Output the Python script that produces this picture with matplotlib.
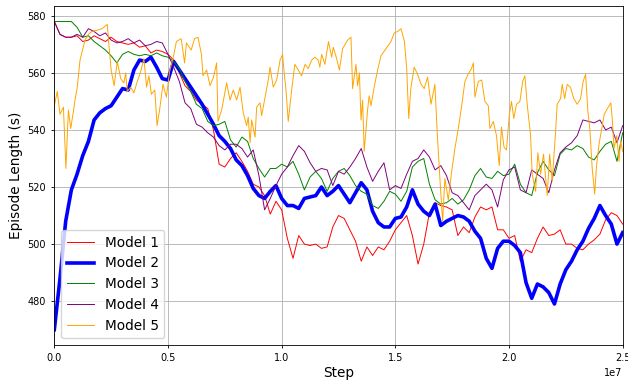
import numpy as np
import matplotlib
matplotlib.use("Agg")
import matplotlib.pyplot as plt

# common step grid (in millions of steps) for models 1-4
steps = np.arange(0, 25.01, 0.25)

model1 = [578, 573.5, 572.5, 572.5, 573, 571, 571.5, 573, 572, 571,
          572.5, 571, 570.5, 570, 570.5, 569, 569.5, 567, 568, 567.5,
          566.5, 564.5, 560, 555.5, 553.5, 550.5, 549, 547.5, 540, 528,
          527, 530, 532, 529, 525.5, 521, 520, 517, 510.5, 515,
          512, 502, 495, 503, 500, 499.5, 500, 498.5, 499, 506,
          510, 509, 505, 501, 494, 499, 496, 499, 498, 501,
          505, 507.5, 510, 503, 493, 500, 511, 514.5, 513.5, 513,
          512, 503, 506, 504, 509.5, 513, 512, 513, 505, 505,
          502, 503, 494, 498, 497, 502, 506, 503, 503.5, 505,
          500, 500, 498.5, 498, 500, 501.5, 503.5, 508.5, 511, 510,
          507]

model2 = [470, 488, 508, 519, 524.5, 531, 536, 543.5, 546, 547.5,
          548.5, 551.5, 554.5, 554, 561, 564.5, 564, 565.5, 562, 558,
          557.5, 564, 561, 558, 555, 552, 549, 545.5, 542, 538,
          536, 533.5, 529.5, 527.5, 524, 519.5, 517, 516, 518.5, 520.5,
          516, 513.5, 513.5, 512.5, 516, 516.5, 517, 520, 517, 518.5,
          520.5, 517.5, 514.5, 518, 521.5, 519, 511.5, 507.5, 506, 506,
          509, 509.5, 513, 519, 514, 511.5, 510, 514, 506.5, 508,
          509, 510, 509.5, 508, 504.5, 502, 495, 491.5, 498.5, 501,
          501, 499.5, 497, 486.5, 481, 486, 485, 483, 479, 486,
          491, 494, 498, 501, 505.5, 509, 513.5, 510, 507, 500,
          504]

model3 = [578, 578, 578, 578, 576, 572.5, 573, 571, 569.5, 568,
          566, 563.5, 566.5, 567.5, 566.5, 566, 566.5, 566, 567, 566,
          565.5, 564, 561.5, 557, 553.5, 549, 547.5, 543, 541.5, 542,
          543, 536.5, 534, 537.5, 536, 530, 526.5, 523.5, 526.5, 526.5,
          528, 527, 529, 524.5, 519, 523.5, 525.5, 523, 518.5, 523,
          525.5, 526.5, 524, 520.5, 518.5, 517.5, 513.5, 512.5, 515, 518.5,
          517.5, 515, 518.5, 527, 529, 530, 521, 515.5, 514, 514.5,
          516, 514, 515.5, 519, 524, 526.5, 523.5, 523, 525.5, 524,
          524.5, 528, 521, 518, 517, 525, 529, 526, 524, 531.5,
          533.5, 533, 534.5, 533.5, 530.5, 529.5, 532.5, 535, 536, 529,
          539]

model4 = [578, 573.5, 572.5, 572.5, 573.5, 572.5, 575.5, 574.5, 573, 574,
          571.5, 570.5, 571, 572, 570.5, 571.5, 569.5, 570, 571, 570.5,
          566.5, 562, 557, 549.5, 547.5, 542, 541, 539, 537.5, 534.5,
          533, 535, 535, 533.5, 530.5, 533, 524, 512, 516, 520.5,
          524.5, 527, 531, 534.5, 532.5, 528.5, 525.5, 526.5, 526, 520.5,
          525.5, 524.5, 527, 530, 533.5, 527, 522, 525.5, 528.5, 519,
          520.5, 519.5, 524.5, 529, 530, 533, 530.5, 526, 527.5, 524,
          518, 517, 514.5, 512, 517, 519, 521, 519, 513, 522.5,
          526, 527, 519, 518, 526, 524.5, 523, 518, 526, 532,
          534, 535.5, 538, 543.5, 543, 542.5, 543.5, 540, 541, 535.5,
          541.5]

# model 5 is much spikier, so it keeps its own step list
model5_steps = [0, 0.13, 0.25, 0.4, 0.51, 0.62, 0.72, 0.84, 0.91, 1.01,
                1.13, 1.35, 1.5, 1.64, 1.9, 2.1, 2.33, 2.41, 2.5, 2.63,
                2.77, 2.92, 3.06, 3.14, 3.21, 3.36, 3.5, 3.65, 3.8, 3.94,
                4.06, 4.16, 4.27, 4.42, 4.52, 4.63, 4.78, 4.93, 5.07, 5.22,
                5.37, 5.58, 5.73, 5.81, 6.02, 6.17, 6.32, 6.47, 6.54, 6.7,
                6.85, 7.0, 7.14, 7.2, 7.36, 7.58, 7.73, 7.87, 8.02, 8.17,
                8.31, 8.46, 8.53, 8.61, 8.68, 8.83, 8.9, 9.05, 9.12, 9.27,
                9.41, 9.49, 9.63, 9.78, 9.93, 10.04, 10.1, 10.19, 10.29, 10.44,
                10.58, 10.73, 10.88, 11.03, 11.17, 11.32, 11.46, 11.61, 11.68, 11.76,
                11.9, 12.06, 12.2, 12.27, 12.42, 12.54, 12.68, 12.9, 13.05, 13.12,
                13.27, 13.34, 13.42, 13.49, 13.56, 13.63, 13.78, 13.85, 13.93, 14.07,
                14.22, 14.37, 14.59, 14.81, 14.95, 15.1, 15.25, 15.4, 15.5, 15.59,
                15.68, 15.83, 15.98, 16.13, 16.27, 16.42, 16.57, 16.74, 16.84, 16.96,
                17.08, 17.18, 17.33, 17.48, 17.62, 17.77, 17.92, 18.06, 18.2, 18.35,
                18.43, 18.5, 18.65, 18.8, 18.94, 19.09, 19.16, 19.31, 19.45, 19.57,
                19.67, 19.78, 19.89, 20.01, 20.11, 20.21, 20.33, 20.48, 20.6, 20.7,
                20.8, 20.95, 21.02, 21.17, 21.27, 21.39, 21.52, 21.68, 21.79, 21.9,
                22.05, 22.12, 22.27, 22.34, 22.45, 22.56, 22.7, 22.85, 23.0, 23.15,
                23.26, 23.37, 23.47, 23.56, 23.66, 23.77, 23.85, 23.96, 24.07, 24.19,
                24.33, 24.48, 24.55, 24.62, 24.74, 24.84, 24.91, 25.0]
model5 = [548.5, 553.5, 545.5, 548, 526.5, 547, 540.5, 546.5, 550.5, 555,
          564.5, 571.5, 573.5, 574.5, 575, 575.5, 577, 569, 561, 555.5,
          564, 558, 556.5, 560, 553.5, 555, 553, 557, 560.5, 565,
          555, 559, 552.5, 554, 541.5, 547, 556, 551.5, 560.5, 565,
          571, 572, 563.5, 570.5, 568, 572, 572.5, 566.5, 559, 561,
          555.5, 558.5, 563.5, 543, 547, 556.5, 550.5, 554, 550.5, 555,
          546, 541.5, 544.5, 535.5, 543.5, 537.5, 548, 549.5, 545, 551.5,
          557.5, 562, 555, 557.5, 564.5, 566.5, 561, 554, 543, 554,
          563, 561, 559, 563, 561.5, 564.5, 565.5, 564.5, 562, 566.5,
          563, 571, 565.5, 569, 565, 561, 568.5, 571.5, 572.5, 554.5,
          563, 555.5, 560, 543.5, 550.5, 532.5, 547, 552, 548.5, 555,
          561, 566, 568.5, 571, 574, 574.5, 575.5, 571, 561.5, 544,
          554.5, 562, 559.5, 556, 554.5, 558.5, 549, 556, 539.5, 523,
          508, 523, 515.5, 525.5, 533.5, 540.5, 548.5, 557, 559.5, 561.5,
          563.5, 551.5, 557, 557.5, 550, 548.5, 540.5, 543, 538, 527.5,
          541, 534, 533, 545, 550, 544, 549, 550, 557, 559,
          549, 538, 524.5, 518.5, 532, 524.5, 531.5, 517, 531.5, 522,
          539.5, 549, 551, 556, 551, 556, 555, 551, 549, 551,
          557, 559.5, 546.5, 540, 526.5, 517.5, 527.5, 535, 540, 545.5,
          547.5, 549.5, 543, 533.5, 538, 529, 536, 532.5]

labels = ["Model 1", "Model 2", "Model 3", "Model 4", "Model 5"]
colors = ["red", "blue", "green", "purple", "orange"]

fig = plt.figure(figsize=(6.28, 3.83), dpi=100)
ax = fig.add_axes([0.0865, 0.099, 0.905, 0.885])

x = steps * 1e6
ax.plot(x, model1, color=colors[0], lw=0.7, label=labels[0])
ax.plot(x, model2, color=colors[1], lw=2.6, label=labels[1])
ax.plot(x, model3, color=colors[2], lw=0.7, label=labels[2])
ax.plot(x, model4, color=colors[3], lw=0.7, label=labels[3])
ax.plot(np.array(model5_steps) * 1e6, model5, color=colors[4], lw=0.7, label=labels[4])

ax.set_xlim(0, 2.5e7)
ax.set_ylim(464.6, 583.4)
ax.set_yticks([480, 500, 520, 540, 560, 580])
ax.grid(True, color="#b0b0b0", lw=0.6)
ax.tick_params(labelsize=7, length=2.5, width=0.6)
ax.xaxis.get_offset_text().set_fontsize(7)
for s in ax.spines.values():
    s.set_linewidth(0.6)

ax.set_xlabel("Step", fontsize=9.8, labelpad=2)
ax.set_ylabel("Episode Length (s)", fontsize=9.8, labelpad=3)
ax.legend(loc="lower left", fontsize=9.8, borderaxespad=0.5,
          handlelength=2.0, labelspacing=0.5)

fig.savefig("out.png", dpi=100)
